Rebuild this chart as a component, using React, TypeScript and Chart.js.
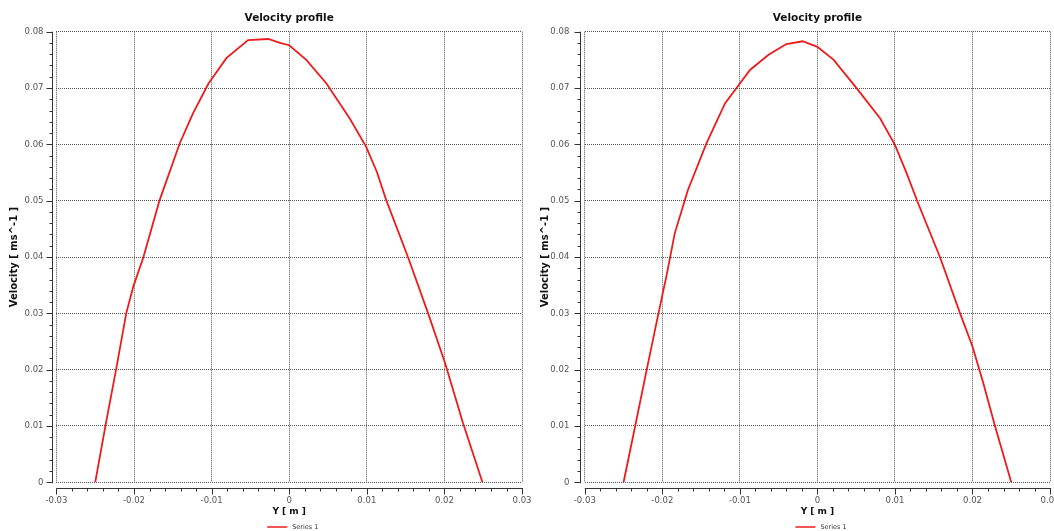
import React, { useEffect, useRef } from 'react';
import { Chart, registerables } from 'chart.js';

Chart.register(...registerables);

const FONT = '"DejaVu Sans", Verdana, sans-serif';

const chartTitle = 'Velocity profile';
const xAxisTitle = 'Y [ m ]';
const yAxisTitle = 'Velocity [ ms^-1 ]';
const seriesName = 'Series 1';

const xTickValues = [-0.03, -0.02, -0.01, 0, 0.01, 0.02, 0.03];
const xTickLabels = ['-0.03', '-0.02', '-0.01', '0', '0.01', '0.02', '0.03'];
const yTickValues = [0, 0.01, 0.02, 0.03, 0.04, 0.05, 0.06, 0.07, 0.08];
const yTickLabels = ['0', '0.01', '0.02', '0.03', '0.04', '0.05', '0.06', '0.07', '0.08'];
const minorDivisions = 5;

// Left panel: position Y [m] and velocity [m/s]
const leftY = [
  -0.025, -0.0237, -0.0223, -0.021, -0.0201, -0.0188, -0.0167, -0.0141, -0.0124, -0.0104,
  -0.0081, -0.0053, -0.0027, -0.0012, 0.0, 0.0022, 0.0048, 0.0078, 0.0099, 0.0113,
  0.0125, 0.0153, 0.0179, 0.0201, 0.0224, 0.0249,
];
const leftVelocity = [
  0, 0.0099, 0.0201, 0.03, 0.0347, 0.0399, 0.0501, 0.0602, 0.0655, 0.0708,
  0.0753, 0.0785, 0.0787, 0.078, 0.0776, 0.075, 0.0708, 0.0646, 0.0596, 0.0551,
  0.0501, 0.04, 0.03, 0.0211, 0.0105, 0,
];

// Right panel
const rightY = [
  -0.025, -0.0235, -0.022, -0.0205, -0.0194, -0.0184, -0.0167, -0.0143, -0.0119, -0.01,
  -0.0087, -0.0063, -0.004, -0.0019, 0.0, 0.0021, 0.0051, 0.0081, 0.01, 0.0115,
  0.013, 0.0158, 0.0184, 0.02, 0.0214, 0.0229, 0.025,
];
const rightVelocity = [
  0, 0.01, 0.0201, 0.03, 0.0371, 0.0442, 0.0519, 0.0602, 0.0673, 0.0708,
  0.0732, 0.0759, 0.0778, 0.0783, 0.0773, 0.075, 0.0699, 0.0646, 0.0599, 0.0549,
  0.0495, 0.04, 0.03, 0.0241, 0.0176, 0.01, 0,
];

const offsetAxesPlugin = {
  id: 'offsetAxes',
  afterDraw(chart: any) {
    const { ctx, chartArea: a, scales } = chart;
    const xs = scales.x;
    const ys = scales.y;
    ctx.save();
    ctx.strokeStyle = '#333';
    ctx.lineWidth = 1;
    const ax = Math.round(a.left - 4.5) + 0.5;
    const ay = Math.round(a.bottom + 6) + 0.5;
    ctx.beginPath();
    ctx.moveTo(ax, a.top);
    ctx.lineTo(ax, a.bottom + 1);
    ctx.moveTo(a.left, ay);
    ctx.lineTo(a.right + 1, ay);
    for (let i = 0; i < xTickValues.length; i++) {
      const px = Math.round(xs.getPixelForValue(xTickValues[i])) + 0.5;
      ctx.moveTo(px, ay);
      ctx.lineTo(px, ay + 6);
      if (i < xTickValues.length - 1) {
        const step = (xTickValues[i + 1] - xTickValues[i]) / minorDivisions;
        for (let k = 1; k < minorDivisions; k++) {
          const mx = Math.round(xs.getPixelForValue(xTickValues[i] + k * step)) + 0.5;
          ctx.moveTo(mx, ay);
          ctx.lineTo(mx, ay + 3);
        }
      }
    }
    for (let i = 0; i < yTickValues.length; i++) {
      const py = Math.round(ys.getPixelForValue(yTickValues[i])) + 0.5;
      ctx.moveTo(ax, py);
      ctx.lineTo(ax - 6, py);
      if (i < yTickValues.length - 1) {
        const step = (yTickValues[i + 1] - yTickValues[i]) / minorDivisions;
        for (let k = 1; k < minorDivisions; k++) {
          const my = Math.round(ys.getPixelForValue(yTickValues[i] + k * step)) + 0.5;
          ctx.moveTo(ax, my);
          ctx.lineTo(ax - 3, my);
        }
      }
    }
    ctx.stroke();

    // legend
    const ds = chart.data.datasets[0];
    const cx = (a.left + a.right) / 2;
    const ly = 527;
    ctx.strokeStyle = ds.borderColor;
    ctx.lineWidth = 1.5;
    ctx.beginPath();
    ctx.moveTo(cx - 22, ly);
    ctx.lineTo(cx - 2, ly);
    ctx.stroke();
    ctx.fillStyle = '#333';
    ctx.font = '6.5px ' + FONT;
    ctx.textAlign = 'left';
    ctx.textBaseline = 'middle';
    ctx.fillText(ds.label, cx + 3, ly);
    ctx.restore();
  },
};

type PanelProps = {
  left: number;
  width: number;
  ys: number[];
  vs: number[];
  yAxisWidth: number;
  yLabelPad: number;
  yTitleOffset: number;
};

function Panel({ left, width, ys, vs, yAxisWidth, yLabelPad, yTitleOffset }: PanelProps) {
  const ref = useRef<HTMLCanvasElement | null>(null);
  useEffect(() => {
    if (!ref.current) return;
    const points = ys.map((y, i) => ({ x: y, y: vs[i] }));
    const chart = new Chart(ref.current, {
      type: 'line',
      data: {
        datasets: [
          {
            label: seriesName,
            data: points,
            borderColor: 'rgb(236,28,28)',
            borderWidth: 1.8,
            pointRadius: 0,
            tension: 0,
            fill: false,
          },
        ],
      },
      options: {
        responsive: false,
        animation: false,
        devicePixelRatio: 1,
        layout: { padding: 0 },
        plugins: {
          legend: { display: false },
          tooltip: { enabled: false },
          title: {
            display: true,
            fullSize: false,
            text: chartTitle,
            color: '#111',
            font: { family: FONT, size: 10.5, weight: 'bold' },
            padding: { top: 12.2, bottom: 6.9 },
          },
        },
        scales: {
          x: {
            type: 'linear',
            min: -0.03,
            max: 0.03,
            afterBuildTicks: (s: any) => {
              s.ticks = xTickValues.map((v) => ({ value: v }));
            },
            afterFit: (s: any) => {
              s.height = 531 - 482.3;
            },
            ticks: {
              autoSkip: false,
              maxRotation: 0,
              padding: 13.5,
              color: '#555',
              font: { family: FONT, size: 8.5 },
              callback: (_v: any, i: number) => xTickLabels[i],
            },
            grid: {
              color: '#555',
              lineWidth: 1,
              drawTicks: false,
            },
            border: { display: false, dash: [1, 1] },
            title: {
              display: true,
              text: xAxisTitle,
              color: '#111',
              font: { family: FONT, size: 9, weight: 'bold' },
              padding: { top: 0, bottom: 14 },
            },
          },
          y: {
            type: 'linear',
            min: 0,
            max: 0.08,
            afterBuildTicks: (s: any) => {
              s.ticks = yTickValues.map((v) => ({ value: v }));
            },
            afterFit: (s: any) => {
              s.width = yAxisWidth;
            },
            ticks: {
              autoSkip: false,
              padding: yLabelPad,
              color: '#555',
              font: { family: FONT, size: 8.5 },
              callback: (_v: any, i: number) => yTickLabels[i],
            },
            grid: {
              color: '#555',
              lineWidth: 1,
              drawTicks: false,
            },
            border: { display: false, dash: [1, 1] },
            title: {
              display: true,
              text: yAxisTitle,
              color: '#111',
              font: { family: FONT, size: 10, weight: 'bold' },
              padding: { top: yTitleOffset, bottom: 0 },
            },
          },
        },
      },
      plugins: [offsetAxesPlugin],
    } as any);
    return () => chart.destroy();
  }, []);
  return (
    <canvas
      ref={ref}
      width={width}
      height={531}
      style={{ position: 'absolute', left, top: 0, width, height: 531 }}
    />
  );
}

export default function App() {
  return (
    <div
      style={{
        position: 'fixed',
        left: 0,
        top: 0,
        width: 1054,
        height: 531,
        overflow: 'hidden',
        background: '#fff',
      }}
    >
      <Panel
        left={0}
        width={545}
        ys={leftY}
        vs={leftVelocity}
        yAxisWidth={56.4}
        yLabelPad={12.9}
        yTitleOffset={8}
      />
      <Panel
        left={527}
        width={546}
        ys={rightY}
        vs={rightVelocity}
        yAxisWidth={57.8}
        yLabelPad={15.5}
        yTitleOffset={12}
      />
    </div>
  );
}
